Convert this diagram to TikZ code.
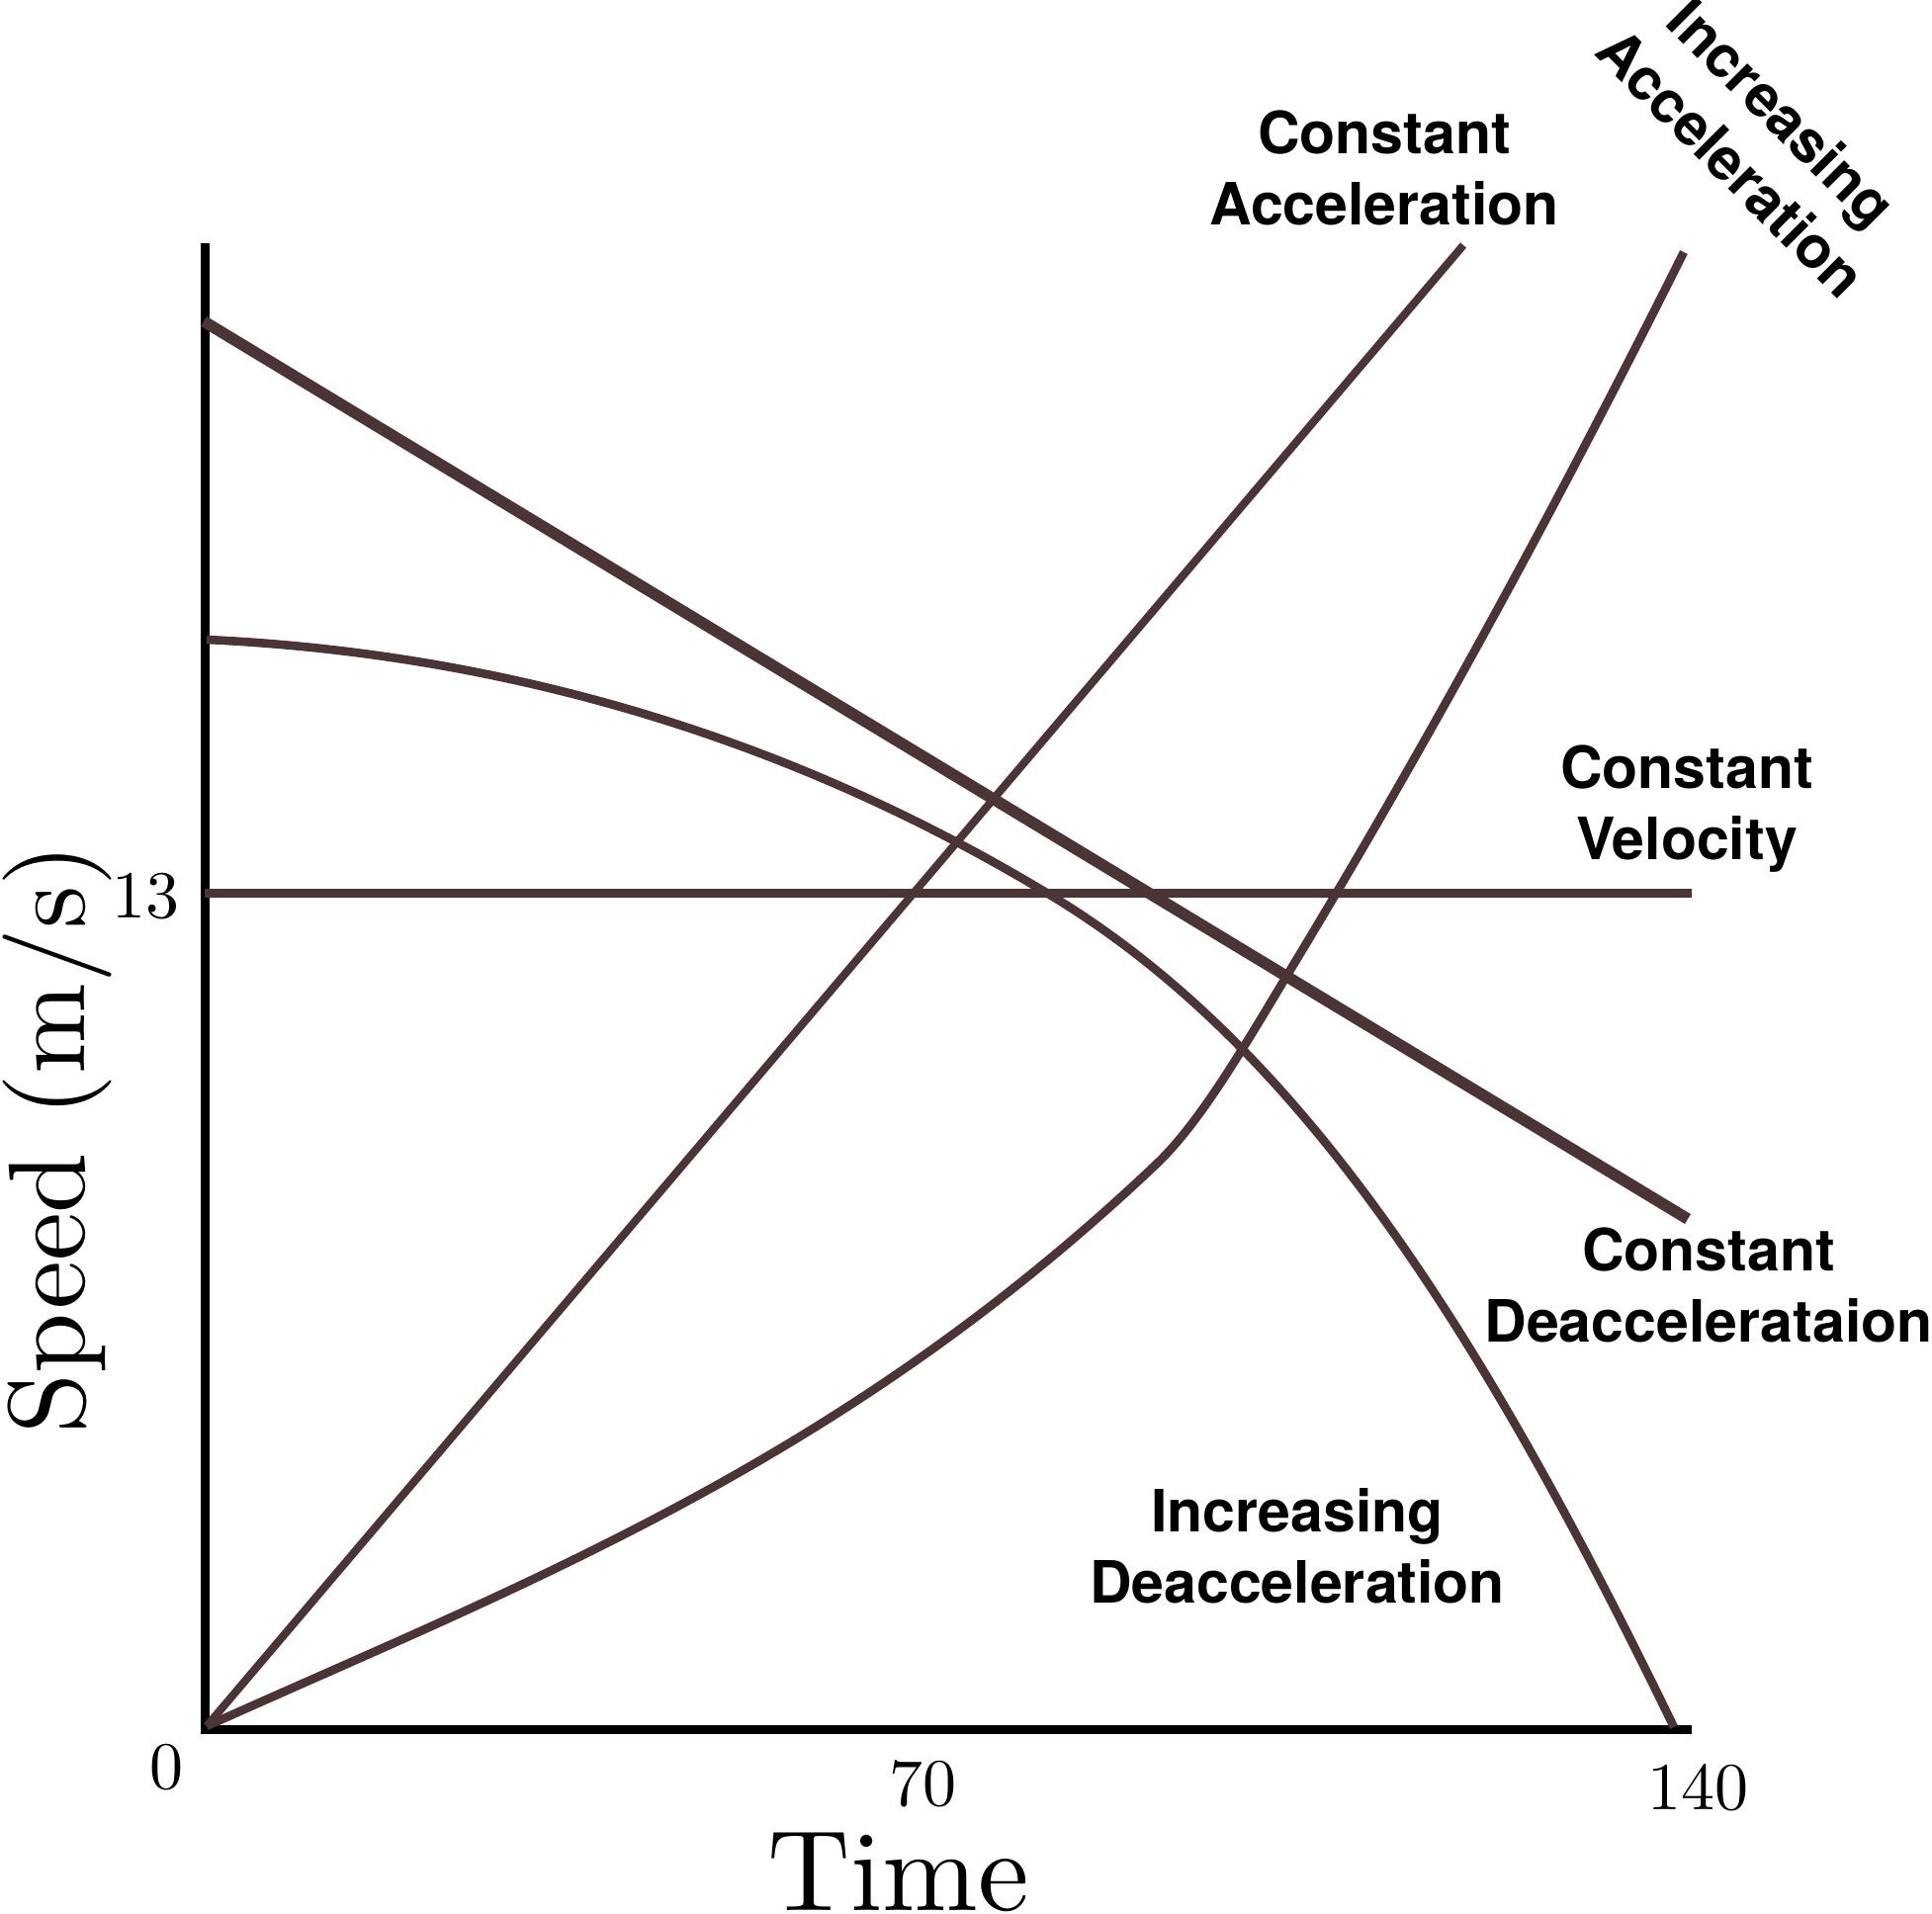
\documentclass[tikz,border=0pt]{standalone}
\usepackage{fontspec}
\newfontfamily\labelsf{TeX Gyre Heros}
\newfontfamily\romten{lmroman10-regular}[Extension=.otf]
\usetikzlibrary{positioning}
\definecolor{graphbrown}{RGB}{74,52,53}

\begin{document}
\begin{tikzpicture}[x=0.5pt,y=-0.5pt,
    axis/.style={line width=4.5pt,line join=miter},
    graph/.style={line width=4.3pt,graphbrown},
    lab/.style={font=\labelsf\bfseries\fontsize{29.5}{36}\selectfont,align=center},
    num/.style={font=\romten\fontsize{34}{40}\selectfont,inner sep=0pt}]
    \useasboundingbox (0,0) rectangle (1954,1935);

    \coordinate(O) at (207,1749);
    \coordinate(ytop) at (207,246);
    \coordinate(xend) at (1711,1749);
    \coordinate(vel0) at (207,903);
    \coordinate(vel1) at (1711,903);
    \coordinate(dec0) at (206,325);
    \coordinate(dec1) at (1707,1233);
    \coordinate(acc0) at (209,1746);
    \coordinate(acc1) at (1480,248);
    \coordinate(iacc1) at (1703,255);
    \coordinate(idec0) at (209,647);
    \coordinate(idec1) at (1693,1747);

    \node[lab] (cacc) at (1400,170) {Constant\\Acceleration};
    \node[lab] (cvel) at (1706,818) {Constant\\Velocity};
    \node[lab] (cdec) at (1728,1300) {Constant\\Deaccelerataion};
    \node[lab] (idec) at (1312,1564) {Increasing\\Deacceleration};
    \node[lab,rotate=-45] (iacc) at (1777,139) {Increasing\\Acceleration};

    \node[num] (n0) at (168,1788) {0};
    \node[num] (n70) at (933,1804) {70};
    \node[num] (n140) at (1717,1808) {140};
    \node[num] (n13) at (147,907) {13};
    \node[font=\romten\fontsize{58}{64}\selectfont,anchor=base] (tlab) at (909,1932) {Time};
    \node[font=\romten\fontsize{55}{60}\selectfont,rotate=90,anchor=base] (slab) at (85,1152) {Speed (m/s)};

    \draw[axis] (ytop) -- (O) -- (xend);

    \begin{scope}
      \draw[graph,line width=4.5pt] (vel0) -- (vel1);
      \draw[graph,line width=5.8pt] (dec0) -- (dec1);
      \draw[graph,line width=4pt] (acc0) -- (acc1);
      \draw[graph] (acc0) .. controls (529,1602) and (850,1481) .. (1170,1177)
        .. controls (1214,1135) and (1258,1059) .. (1302,986)
        .. controls (1436,765) and (1569,523) .. (iacc1);
      \draw[graph] (idec0) .. controls (489,660) and (780,735) .. (1060,904)
        .. controls (1310,1054) and (1493,1335) .. (idec1);
    \end{scope}
  \end{tikzpicture}
\end{document}
